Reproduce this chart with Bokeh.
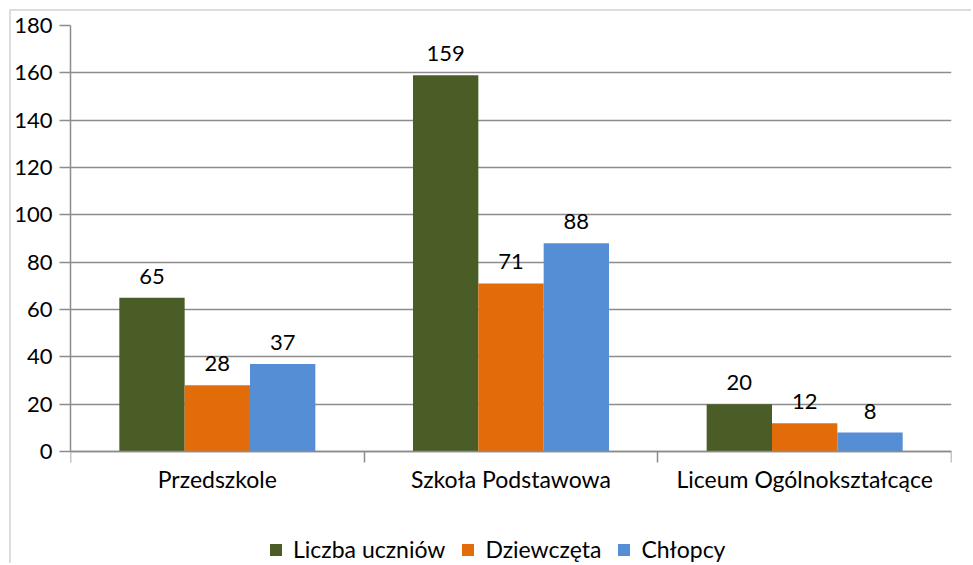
from bokeh.plotting import figure
from bokeh.models import (Range1d, FixedTicker, ColumnDataSource, LabelSet,
                          Legend, LegendItem)
from bokeh.core.properties import value
from bokeh.transform import dodge
from bokeh.embed import file_html
from bokeh.resources import INLINE

categories = ["Przedszkole", "Szkoła Podstawowa", "Liceum Ogólnokształcące"]
series = ["Liczba uczniów", "Dziewczęta", "Chłopcy"]
liczba_uczniow = [65, 159, 20]
dziewczeta = [28, 71, 12]
chlopcy = [37, 88, 8]
colors = ["#4B5D27", "#E36C0A", "#558ED5"]
y_ticks = [0, 20, 40, 60, 80, 100, 120, 140, 160, 180]

FONT = "Lato"
GRAY = "#8C8C8C"

centers = [i + 0.5 for i in range(len(categories))]
bounds = [float(i) for i in range(len(categories) + 1)]

src = ColumnDataSource(dict(
    x=centers,
    s0=liczba_uczniow, s1=dziewczeta, s2=chlopcy,
    t0=[str(v) for v in liczba_uczniow],
    t1=[str(v) for v in dziewczeta],
    t2=[str(v) for v in chlopcy],
))

# frame extends below zero so that category labels and legend sit inside it
p = figure(frame_width=881, frame_height=538,
           x_range=Range1d(0, len(categories)), y_range=Range1d(-47.3, 180),
           output_backend="svg", toolbar_location=None,
           min_border_left=58, min_border_top=14, min_border_right=20,
           min_border_bottom=0)
p.outline_line_color = None
p.background_fill_color = "white"
p.border_fill_color = "white"
p.styles = {"border-left": "2px solid #DDDDDD", "border-top": "2px solid #DDDDDD"}
p.margin = (9, 0, 0, 9)

bw = 0.2225
offsets = [-bw, 0.0, bw]
items = []
for k in range(3):
    r = p.vbar(x=dodge("x", offsets[k], range=p.x_range), top=f"s{k}", width=bw,
               source=src, fill_color=colors[k], line_color=None)
    items.append(LegendItem(label=series[k], renderers=[r]))
    lab = LabelSet(x=dodge("x", offsets[k], range=p.x_range), y=f"s{k}", text=f"t{k}",
                   source=src, text_align="center", text_baseline="alphabetic",
                   y_offset=14, text_font=value(FONT), text_font_size=value("22px"),
                   text_color=value("black"))
    p.add_layout(lab)

# y axis
p.yaxis.ticker = FixedTicker(ticks=y_ticks)
p.yaxis.bounds = (0, 180)
p.yaxis.axis_line_color = GRAY
p.yaxis.axis_line_width = 1.5
p.yaxis.major_tick_line_color = GRAY
p.yaxis.major_tick_line_width = 1.5
p.yaxis.major_tick_out = 11
p.yaxis.major_tick_in = 0
p.yaxis.minor_tick_line_color = None
p.yaxis.major_label_text_font = FONT
p.yaxis.major_label_text_font_size = "22px"
p.yaxis.major_label_text_color = "black"
p.yaxis.major_label_standoff = 7

# x axis (category axis at value 0)
p.xaxis.fixed_location = 0
p.xaxis.ticker = FixedTicker(ticks=centers, minor_ticks=bounds)
p.xaxis.major_label_overrides = {c: n for c, n in zip(centers, categories)}
p.xaxis.axis_line_color = GRAY
p.xaxis.axis_line_width = 1.5
p.xaxis.major_tick_line_color = None
p.xaxis.major_tick_out = 0
p.xaxis.major_tick_in = 0
p.xaxis.minor_tick_line_color = GRAY
p.xaxis.minor_tick_line_width = 1.5
p.xaxis.minor_tick_out = 11
p.xaxis.minor_tick_in = 0
p.xaxis.major_label_text_font = FONT
p.xaxis.major_label_text_font_size = "23px"
p.xaxis.major_label_text_color = "black"
p.xaxis.major_label_standoff = 2

p.xgrid.grid_line_color = None
p.ygrid.ticker = FixedTicker(ticks=y_ticks)
p.ygrid.grid_line_color = GRAY
p.ygrid.grid_line_width = 1.5

legend = Legend(items=items, orientation="horizontal", location=(198, 0),
                glyph_width=15, glyph_height=15, label_text_font=FONT,
                label_text_font_size="23px", label_text_color="black",
                border_line_color=None, background_fill_alpha=0,
                spacing=15, label_standoff=10, padding=0, margin=0)
p.add_layout(legend, "center")

open("out.html", "w").write(file_html(p, INLINE))
